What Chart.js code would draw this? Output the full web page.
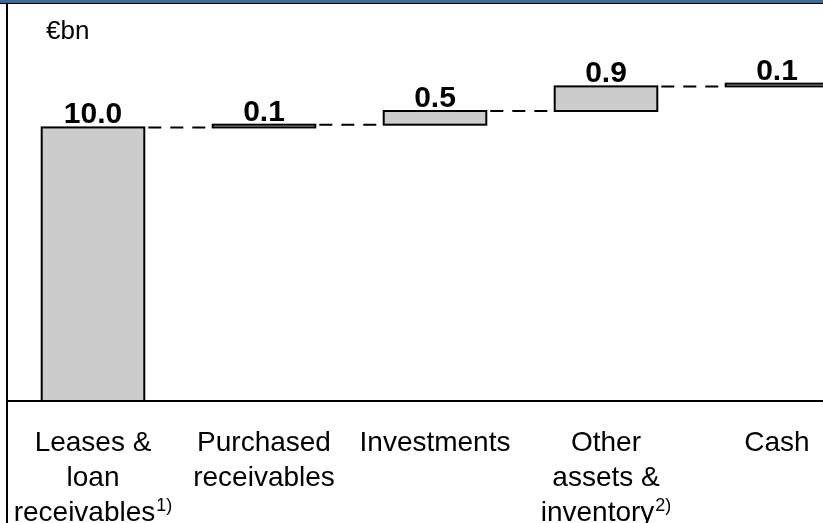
<!DOCTYPE html>
<html>
<head>
<meta charset="utf-8">
<script src="https://cdn.jsdelivr.net/npm/chart.js@4.4.1/dist/chart.umd.min.js"></script>
<style>
  html, body { margin: 0; padding: 0; background: #fff; }
  #frame { width: 823px; height: 523px; overflow: hidden; position: relative; }
  #wrap { width: 870px; height: 523px; }
</style>
</head>
<body>
<div id="frame">
  <div id="wrap"><canvas id="bridge"></canvas></div>
</div>
<script>
// categories, one line per row of the axis label
var categories = ['Leases & loan receivables', 'Purchased receivables', 'Investments', 'Other assets & inventory', 'Cash']
var labelLines = [
  ['Leases &', 'loan', 'receivables'],
  ['Purchased', 'receivables'],
  ['Investments'],
  ['Other', 'assets &', 'inventory'],
  ['Cash']
]
var footnotes = ['1)', '', '', '2)', '']
var values = [10.0, 0.1, 0.5, 0.9, 0.1]
var unitLabel = '€bn'

// waterfall: each bar floats from the running total
var floating = []
var running = 0
for (var i = 0; i < values.length; i++) {
  floating.push([running, running + values[i]])
  running += values[i]
}

var FONT = '"Liberation Sans", Arial, sans-serif'

var bridgePlugin = {
  id: 'bridge',
  afterDatasetsDraw: function (chart) {
    var ctx = chart.ctx
    var xs = chart.scales.x
    var ys = chart.scales.y
    var bars = chart.getDatasetMeta(0).data
    var y0 = ys.getPixelForValue(0)

    ctx.save()
    ctx.strokeStyle = '#000'
    ctx.lineWidth = 2

    // bar outlines centred on the edges, so thin bars stay visible
    for (var b = 0; b < bars.length; b++) {
      var p = bars[b].getProps(['x', 'y', 'base', 'width'], true)
      ctx.strokeRect(p.x - p.width / 2, p.y, p.width, p.base - p.y)
    }

    // dashed connectors between bars
    ctx.setLineDash([13, 9])
    for (var i = 0; i < bars.length - 1; i++) {
      var yy = ys.getPixelForValue(floating[i][1])
      ctx.beginPath()
      ctx.moveTo(bars[i].x + bars[i].width / 2 + 4, yy)
      ctx.lineTo(bars[i + 1].x - bars[i + 1].width / 2 - 1, yy)
      ctx.stroke()
    }
    ctx.setLineDash([])

    // value labels
    ctx.fillStyle = '#000'
    ctx.textAlign = 'center'
    ctx.textBaseline = 'alphabetic'
    ctx.font = 'bold 30px ' + FONT
    for (var j = 0; j < bars.length; j++) {
      var top = ys.getPixelForValue(floating[j][1])
      ctx.fillText(values[j].toFixed(1), bars[j].x, top - 4)
    }

    // axis line and frame
    ctx.beginPath()
    ctx.moveTo(7, y0)
    ctx.lineTo(chart.width, y0)
    ctx.stroke()
    ctx.beginPath()
    ctx.moveTo(7, 0)
    ctx.lineTo(7, chart.height)
    ctx.stroke()
    ctx.fillStyle = '#41669a'
    ctx.fillRect(0, 0, chart.width, 3)
    ctx.fillStyle = '#000'
    ctx.fillRect(0, 3, chart.width, 1)

    // unit
    ctx.textAlign = 'left'
    ctx.font = '26px ' + FONT
    ctx.fillText(unitLabel, 46, 39)

    // category labels with footnote superscripts
    for (var k = 0; k < labelLines.length; k++) {
      var cx = xs.getPixelForValue(k)
      var lines = labelLines[k]
      for (var m = 0; m < lines.length; m++) {
        var base = y0 + 50 + m * 35
        var last = m === lines.length - 1 && footnotes[k]
        ctx.font = '28px ' + FONT
        var w = ctx.measureText(lines[m]).width
        var sw = 0
        if (last) {
          ctx.font = '18px ' + FONT
          sw = ctx.measureText(footnotes[k]).width + 1
        }
        var left = cx - (w + sw) / 2
        ctx.font = '28px ' + FONT
        ctx.fillText(lines[m], left, base)
        if (last) {
          ctx.font = '18px ' + FONT
          ctx.fillText(footnotes[k], left + w + 1, base - 10)
        }
      }
    }
    ctx.restore()
  }
}

new Chart(document.getElementById('bridge'), {
  type: 'bar',
  data: {
    labels: categories,
    datasets: [{
      data: floating,
      backgroundColor: '#cccccc',
      borderWidth: 0,
      barPercentage: 1.0,
      categoryPercentage: 0.6
    }]
  },
  options: {
    responsive: true,
    maintainAspectRatio: false,
    animation: false,
    layout: { padding: { left: 7.5, right: 7.5, top: 18, bottom: 122 } },
    plugins: { legend: { display: false }, tooltip: { enabled: false } },
    scales: {
      x: { display: false },
      y: { display: false, min: 0, max: 14 }
    }
  },
  plugins: [bridgePlugin]
})
</script>
</body>
</html>
